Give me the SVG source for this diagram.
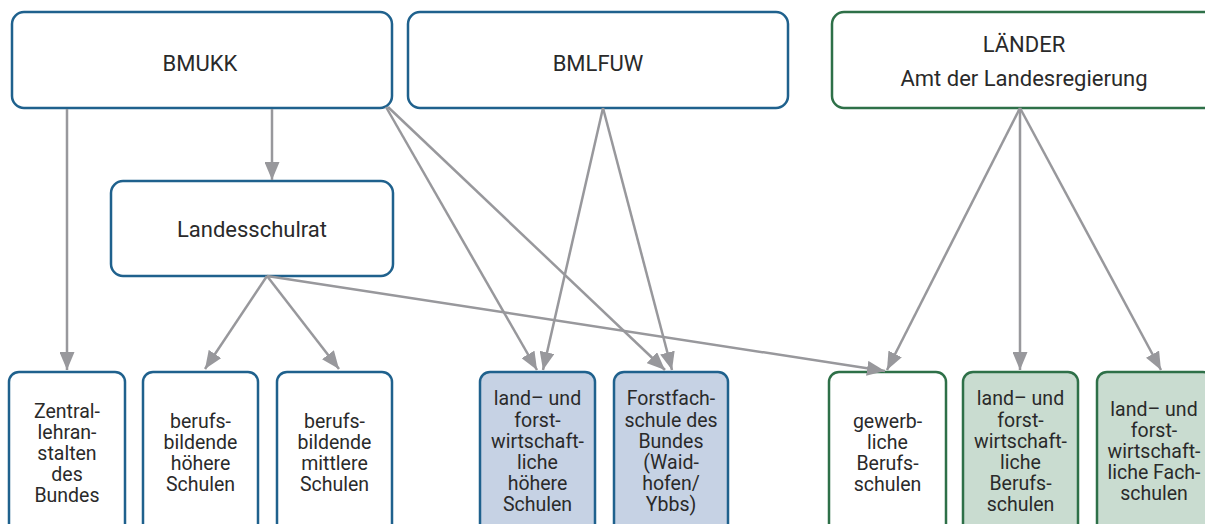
<svg xmlns="http://www.w3.org/2000/svg" width="1205" height="524" viewBox="0 0 1205 524">
<style>
.b{fill:#fff;stroke:#1f618d;stroke-width:2.5}
.g{fill:#fff;stroke:#2e7048;stroke-width:2.5}
.bf{fill:#c6d2e4}
.gf{fill:#c9dcd0}
text{font-family:Roboto,"Liberation Sans",sans-serif;fill:#2a2a2a;text-anchor:middle}
.t{font-size:22px}
.s{font-size:19.5px}
.c line{stroke:#98989c;stroke-width:2.5;marker-end:url(#ah)}
</style>
<defs>
<marker id="ah" markerUnits="userSpaceOnUse" markerWidth="18" markerHeight="15" refX="18" refY="7.5" orient="auto" viewBox="0 0 18 15">
<path d="M0,0 L18,7.5 L0,15 z" fill="#98989c"/>
</marker>
</defs>
<g id="bmukk"><rect class="b" x="12" y="12" width="380" height="96" rx="12"/><text class="t" x="200" y="71">BMUKK</text></g>
<g id="bmlfuw"><rect class="b" x="408" y="12" width="380" height="96" rx="12"/><text class="t" x="598" y="71">BMLFUW</text></g>
<g id="laender"><rect class="g" x="832" y="12" width="390" height="96" rx="12"/><text class="t" x="1024" y="52">LÄNDER</text><text class="t" x="1024" y="86">Amt der Landesregierung</text></g>
<g id="landesschulrat"><rect class="b" x="111" y="181" width="282" height="95" rx="12"/><text class="t" x="252" y="237">Landesschulrat</text></g>
<g id="zentral"><rect class="b" x="9" y="372" width="116" height="175" rx="10"/><text class="s" x="67"><tspan x="67" y="418">Zentral-</tspan><tspan x="67" y="439">lehran-</tspan><tspan x="67" y="460">stalten</tspan><tspan x="67" y="481">des</tspan><tspan x="67" y="502">Bundes</tspan></text></g>
<g id="bhs"><rect class="b" x="143" y="372" width="115" height="175" rx="10"/><text class="s"><tspan x="200.5" y="428">berufs-</tspan><tspan x="200.5" y="449">bildende</tspan><tspan x="200.5" y="470">höhere</tspan><tspan x="200.5" y="491">Schulen</tspan></text></g>
<g id="bms"><rect class="b" x="277" y="372" width="115" height="175" rx="10"/><text class="s"><tspan x="334.5" y="428">berufs-</tspan><tspan x="334.5" y="449">bildende</tspan><tspan x="334.5" y="470">mittlere</tspan><tspan x="334.5" y="491">Schulen</tspan></text></g>
<g id="lfhs"><rect class="b bf" x="480" y="372" width="115" height="175" rx="10"/><text class="s"><tspan x="537.5" y="405">land– und</tspan><tspan x="537.5" y="427">forst-</tspan><tspan x="537.5" y="448">wirtschaft-</tspan><tspan x="537.5" y="469">liche</tspan><tspan x="537.5" y="490">höhere</tspan><tspan x="537.5" y="511">Schulen</tspan></text></g>
<g id="forstfach"><rect class="b bf" x="614" y="372" width="114" height="175" rx="10"/><text class="s"><tspan x="671" y="405">Forstfach-</tspan><tspan x="671" y="427">schule des</tspan><tspan x="671" y="448">Bundes</tspan><tspan x="671" y="469">(Waid-</tspan><tspan x="671" y="490">hofen/</tspan><tspan x="671" y="511">Ybbs)</tspan></text></g>
<g id="gewerb"><rect class="g" x="829" y="372" width="117" height="175" rx="10"/><text class="s"><tspan x="887.5" y="428">gewerb-</tspan><tspan x="887.5" y="449">liche</tspan><tspan x="887.5" y="470">Berufs-</tspan><tspan x="887.5" y="491">schulen</tspan></text></g>
<g id="lfbs"><rect class="g gf" x="963" y="372" width="115" height="175" rx="10"/><text class="s"><tspan x="1020.5" y="405">land– und</tspan><tspan x="1020.5" y="427">forst-</tspan><tspan x="1020.5" y="448">wirtschaft-</tspan><tspan x="1020.5" y="469">liche</tspan><tspan x="1020.5" y="490">Berufs-</tspan><tspan x="1020.5" y="511">schulen</tspan></text></g>
<g id="lffs"><rect class="g gf" x="1097" y="372" width="116" height="175" rx="10"/><text class="s"><tspan x="1154" y="416">land– und</tspan><tspan x="1154" y="437">forst-</tspan><tspan x="1154" y="458">wirtschaft-</tspan><tspan x="1154" y="479">liche Fach-</tspan><tspan x="1154" y="500">schulen</tspan></text></g>
<g id="connectors" class="c">
<line x1="67" y1="109" x2="67" y2="370"/>
<line x1="272" y1="109" x2="272" y2="180"/>
<line x1="386" y1="107" x2="537" y2="370"/>
<line x1="388" y1="107" x2="665" y2="370"/>
<line x1="603" y1="108" x2="543" y2="370"/>
<line x1="603" y1="108" x2="672" y2="370"/>
<line x1="267" y1="276" x2="205" y2="369"/>
<line x1="267" y1="276" x2="339" y2="369"/>
<line x1="267" y1="276" x2="885" y2="371"/>
<line x1="1020" y1="108" x2="887" y2="370"/>
<line x1="1020" y1="108" x2="1020" y2="370"/>
<line x1="1020" y1="108" x2="1161" y2="370"/>
</g>
</svg>
